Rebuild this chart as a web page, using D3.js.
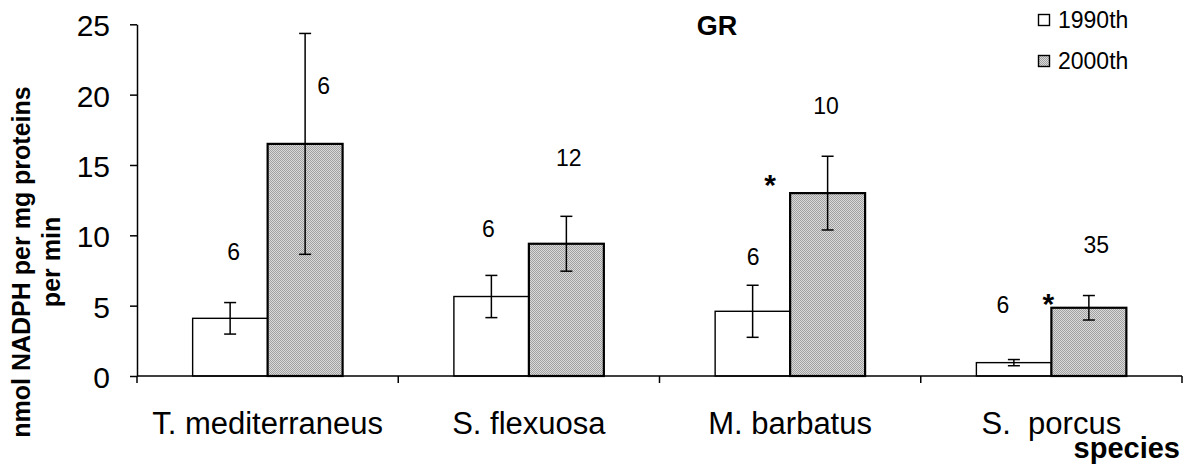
<!DOCTYPE html>
<html>
<head>
<meta charset="utf-8">
<script src="https://cdn.jsdelivr.net/npm/d3@7"></script>
<style>
  html, body { margin: 0; padding: 0; background: #fff; }
  svg { display: block; font-family: "Liberation Sans", Arial, sans-serif; }
</style>
</head>
<body>
<svg id="chart" width="1184" height="464"></svg>
<script>
// ---------- data ----------
const categories = ["T. mediterraneus", "S. flexuosa", "M. barbatus", "S.  porcus"];
const seriesNames = ["1990th", "2000th"];
const values1990 = [4.1, 5.65, 4.6, 0.95];
const errors1990 = [1.12, 1.5, 1.85, 0.22];
const values2000 = [16.5, 9.4, 13.0, 4.85];
const errors2000 = [7.85, 1.95, 2.62, 0.87];
const nLabels1990 = ["6", "6", "6", "6"];
const nLabels2000 = ["6", "12", "10", "35"];
// annotation heights in data units (where the sample-size label sits)
const nLabelAt1990 = [8.8, 10.45, 8.45, 5.05];
const nLabelAt2000 = [20.6, 15.5, 19.2, 9.3];
// significance markers: category, height in data units
const starCategories = ["M. barbatus", "S.  porcus"];
const starAt = [14.2, 5.75];
const yTicks = [0, 5, 10, 15, 20, 25];
const title = "GR";
const yTitleLines = ["nmol NADPH per mg proteins", "per min"];
const xTitle = "species";

// ---------- layout / style ----------
const M = { left: 137, right: 1182, top: 24.3, bottom: 376 };
const nLabelDx1990 = [3.5, -3, 0.5, -11];
const nLabelDx2000 = [18.5, 2.5, -1.5, 7.5];
const starDx = [-57.5, -40.5];

const svg = d3.select("#chart");
const defs = svg.append("defs");
const pat = defs.append("pattern").attr("id", "dots")
  .attr("patternUnits", "userSpaceOnUse").attr("width", 2).attr("height", 2);
pat.append("rect").attr("width", 2).attr("height", 2).attr("fill", "#dadada");
pat.append("rect").attr("width", 1).attr("height", 1).attr("fill", "#a0a0a0");
pat.append("rect").attr("x", 1).attr("y", 1).attr("width", 1).attr("height", 1).attr("fill", "#a0a0a0");

const x = d3.scaleBand().domain(categories).range([M.left, M.right]).paddingInner(0).paddingOuter(0);
const x1 = d3.scaleBand().domain(seriesNames).range([0, x.bandwidth()]).paddingInner(0).paddingOuter(0.742);
const y = d3.scaleLinear().domain([0, 25]).range([M.bottom, M.top]);

const fills = { "1990th": "#ffffff", "2000th": "url(#dots)" };
const strokeW = { "1990th": 1.4, "2000th": 2.2 };

const rows = [];
categories.forEach((c, i) => {
  rows.push({ c, s: "1990th", v: values1990[i], e: errors1990[i], n: nLabels1990[i], at: nLabelAt1990[i], dx: nLabelDx1990[i] });
  rows.push({ c, s: "2000th", v: values2000[i], e: errors2000[i], n: nLabels2000[i], at: nLabelAt2000[i], dx: nLabelDx2000[i] });
});
const cx = d => x(d.c) + x1(d.s) + x1.bandwidth() / 2;

// bars
svg.append("g").selectAll("rect").data(rows).join("rect")
  .attr("x", d => x(d.c) + x1(d.s))
  .attr("y", d => y(d.v))
  .attr("width", x1.bandwidth())
  .attr("height", d => y(0) - y(d.v))
  .attr("fill", d => fills[d.s])
  .attr("stroke", "#000")
  .attr("stroke-width", d => strokeW[d.s]);

// axes
const gx = svg.append("g");
gx.append("line").attr("x1", M.left).attr("x2", M.right).attr("y1", y(0)).attr("y2", y(0))
  .attr("stroke", "#000").attr("stroke-width", 1.5);
const bounds = categories.map(c => x(c)).concat([x.range()[1]]);
gx.selectAll("line.b").data(bounds).join("line").attr("class", "b")
  .attr("x1", d => d).attr("x2", d => d).attr("y1", y(0)).attr("y2", y(0) + 7)
  .attr("stroke", "#000").attr("stroke-width", 1.5);

const xAxis = svg.append("g").attr("transform", `translate(0,${y(0)})`)
  .call(d3.axisBottom(x).tickSize(0).tickPadding(0));
xAxis.select(".domain").remove();
xAxis.selectAll("text").attr("y", 58).attr("dy", null)
  .style("white-space", "pre")
  .attr("font-size", 31).attr("fill", "#000").attr("font-family", "Liberation Sans, Arial, sans-serif");

const yAxis = svg.append("g").attr("transform", `translate(${M.left},0)`)
  .call(d3.axisLeft(y).tickValues(yTicks).tickSize(7).tickSizeOuter(0).tickPadding(20).tickFormat(d3.format("d")));
yAxis.select(".domain").attr("stroke-width", 1.5);
yAxis.selectAll(".tick line").attr("stroke-width", 1.5);
yAxis.selectAll("text").attr("font-size", 30).attr("dy", "0.38em").attr("fill", "#000")
  .attr("font-family", "Liberation Sans, Arial, sans-serif");

// error bars
const eb = svg.append("g").attr("stroke", "#000").attr("stroke-width", 1.5);
rows.forEach(d => {
  const X = cx(d);
  eb.append("line").attr("x1", X).attr("x2", X).attr("y1", y(d.v + d.e)).attr("y2", y(d.v - d.e));
  eb.append("line").attr("x1", X - 6).attr("x2", X + 6).attr("y1", y(d.v + d.e)).attr("y2", y(d.v + d.e));
  eb.append("line").attr("x1", X - 6).attr("x2", X + 6).attr("y1", y(d.v - d.e)).attr("y2", y(d.v - d.e));
});

// sample-size labels
svg.append("g").selectAll("text").data(rows).join("text")
  .attr("x", d => cx(d) + d.dx)
  .attr("y", d => y(d.at))
  .attr("dy", "0.36em")
  .attr("text-anchor", "middle")
  .attr("font-size", 23)
  .text(d => d.n);

// significance stars
svg.append("g").selectAll("text").data(starCategories).join("text")
  .attr("x", (c, i) => x(c) + x1("2000th") + x1.bandwidth() / 2 + starDx[i])
  .attr("y", (c, i) => y(starAt[i]))
  .attr("dy", "0.62em")
  .attr("text-anchor", "middle")
  .attr("font-size", 30)
  .attr("font-weight", "bold")
  .text("*");

// title
svg.append("text").attr("x", 717).attr("y", 35).attr("text-anchor", "middle")
  .attr("font-size", 27).attr("font-weight", "bold").text(title);

// legend
const lg = svg.append("g");
const legendRows = [{ s: "1990th", y: 20 }, { s: "2000th", y: 61 }];
legendRows.forEach(r => {
  lg.append("rect").attr("x", 1038.5).attr("y", r.y - 5.5).attr("width", 11).attr("height", 11)
    .attr("fill", fills[r.s]).attr("stroke", "#000").attr("stroke-width", 1.4);
  lg.append("text").attr("x", 1058).attr("y", r.y + 8).attr("font-size", 23).text(r.s);
});

// y title
const yt = svg.append("text").attr("transform", "translate(0,262) rotate(-90)")
  .attr("text-anchor", "middle").attr("font-size", 25).attr("font-weight", "bold");
yt.append("tspan").attr("x", 0).attr("y", 30).text(yTitleLines[0]);
yt.append("tspan").attr("x", 0).attr("y", 60).text(yTitleLines[1]);

// x title
svg.append("text").attr("x", 1180).attr("y", 458).attr("text-anchor", "end")
  .attr("font-size", 29).attr("font-weight", "bold").text(xTitle);
</script>
</body>
</html>
